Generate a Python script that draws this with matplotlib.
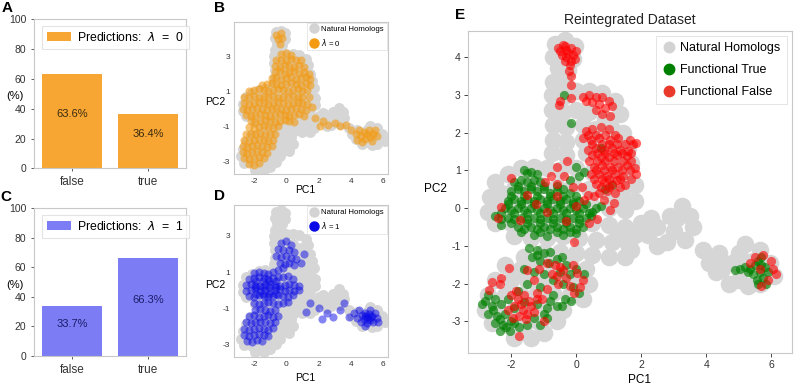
import numpy as np
import matplotlib
matplotlib.use("Agg")
import matplotlib.pyplot as plt
from matplotlib.lines import Line2D

plt.rcParams['font.family'] = ['Liberation Sans', 'DejaVu Sans']
plt.rcParams['axes.unicode_minus'] = False

# ---- bar panels (A, C) ----
bar_cats = ["false", "true"]
pct_lambda0 = [63.6, 36.4]
pct_lambda1 = [33.7, 66.3]

# ---- natural homologs (PC1, PC2), shared by B, D, E ----
natural = [
    (-0.65, 4.35), (-0.35, 4.45), (-0.05, 4.3), (-0.7, 4.0), (-0.4, 4.05), (-0.1, 3.95), (-0.55, 3.7), (-0.25, 3.65),
    (-0.7, 3.35), (-0.35, 3.3), (-0.75, 3.0), (-0.4, 2.95), (0.0, 3.1), (0.4, 3.1), (0.8, 3.05), (1.2, 2.85), (1.35, 2.5),
    (-0.75, 2.6), (-0.4, 2.55), (0.0, 2.6), (0.4, 2.55), (0.9, 2.35), (-0.7, 2.2), (-0.3, 2.15), (0.2, 2.2), (0.6, 2.1),
    (1.1, 2.1), (1.45, 2.0), (-0.7, 1.8), (-0.3, 1.75), (0.2, 1.8), (0.7, 1.7), (1.2, 1.65), (1.6, 1.6), (-0.75, 1.45),
    (-0.3, 1.4), (0.3, 1.45), (0.8, 1.35), (1.3, 1.3), (1.7, 1.2),
    (-2.5, 0.7), (-2.1, 0.9), (-1.7, 1.05), (-1.3, 1.1), (-0.9, 1.05), (-0.5, 1.0), (0.0, 1.05), (0.5, 0.95), (1.0, 0.9),
    (1.5, 0.85), (1.8, 0.6), (-2.65, 0.3), (-2.3, 0.4), (-1.9, 0.5), (-1.5, 0.6), (-1.1, 0.6), (-0.6, 0.55), (-0.1, 0.6),
    (0.4, 0.5), (0.9, 0.45), (1.4, 0.4), (1.8, 0.2), (-2.7, -0.1), (-2.4, 0.0), (-2.0, 0.05), (-1.5, 0.1), (-1.0, 0.1),
    (-0.5, 0.1), (0.0, 0.1), (0.5, 0.05), (1.0, 0.0), (1.5, -0.05), (-2.5, -0.4), (-2.0, -0.4), (-1.5, -0.35), (-1.0, -0.4),
    (-0.5, -0.35), (0.0, -0.35), (0.5, -0.4), (1.0, -0.45), (1.5, -0.5), (-1.9, -0.75), (-1.4, -0.8), (-0.9, -0.8),
    (-0.4, -0.75), (0.1, -0.8), (0.6, -0.85), (1.1, -0.9), (1.6, -0.95), (-1.0, -1.15), (-0.5, -1.15), (0.0, -1.2),
    (0.5, -1.25), (1.0, -1.3), (1.5, -1.3), (1.3, 0.2), (1.3, -0.75), (1.8, -0.7),
    (-1.6, -1.3), (-2.2, -1.5), (-1.7, -1.6), (-1.2, -1.5), (-0.7, -1.5), (-0.2, -1.45), (0.3, -1.6), (-2.5, -1.9),
    (-2.0, -1.9), (-1.5, -1.9), (-1.0, -1.85), (-0.5, -1.85), (0.0, -1.9), (0.4, -2.0), (-2.7, -2.3), (-2.2, -2.3),
    (-1.7, -2.3), (-1.2, -2.25), (-0.7, -2.25), (-0.2, -2.3), (0.2, -2.4), (-2.8, -2.7), (-2.4, -2.7), (-1.9, -2.7),
    (-1.4, -2.7), (-0.9, -2.65), (-0.4, -2.7), (-2.6, -3.05), (-2.1, -3.1), (-1.6, -3.1), (-1.1, -3.05), (-0.6, -3.0),
    (-1.9, -3.45), (-1.4, -3.45), (-1.0, -3.3),
    (2.0, -0.4), (1.7, -1.1), (2.2, -0.7), (2.5, -0.5), (2.5, -1.0), (2.9, -0.2), (3.25, 0.05), (3.6, -0.5), (3.35, -0.85),
    (3.0, -0.6), (2.3, -0.25), (2.8, -0.9), (3.1, -0.25), (3.5, -0.2),
    (3.9, -1.1), (4.4, -1.2), (4.3, -1.7), (4.7, -2.0), (5.2, -0.95), (5.65, -1.1), (5.1, -1.6), (5.65, -2.0), (5.95, -1.45),
    (4.8, -1.45), (5.3, -2.05), (6.1, -1.8), (4.1, -1.45), (4.5, -1.6), (5.0, -1.2), (5.45, -1.4), (5.8, -1.7), (5.0, -1.9),
]

# ---- predictions lambda = 0 (panel B) ----
pred_lambda0 = [
    (-0.6, 4.2), (-0.35, 4.3), (-0.5, 3.95), (-0.25, 4.0), (-0.4, 3.7),
    (-0.3, 3.1), (0.0, 3.15), (0.3, 3.05), (-0.6, 2.8), (-0.3, 2.75), (0.0, 2.8), (0.3, 2.85), (0.6, 2.75), (0.9, 2.8),
    (-0.7, 2.45), (-0.4, 2.4), (-0.1, 2.5), (0.2, 2.45), (0.5, 2.4), (0.8, 2.5), (1.1, 2.4),
    (-0.7, 2.1), (-0.4, 2.15), (-0.1, 2.05), (0.2, 2.1), (0.5, 2.15), (0.8, 2.05), (1.1, 2.1), (1.4, 2.0),
    (-0.9, 1.75), (-0.6, 1.8), (-0.3, 1.7), (0.0, 1.75), (0.3, 1.8), (0.6, 1.7), (0.9, 1.75), (1.2, 1.8), (1.5, 1.7),
    (-1.5, 1.35), (-1.2, 1.4), (-0.9, 1.45), (-0.6, 1.4), (-0.3, 1.35), (0.0, 1.4), (0.3, 1.45), (0.6, 1.4), (0.9, 1.35),
    (1.2, 1.45), (1.5, 1.35),
    (-2.3, 1.0), (-2.0, 1.05), (-1.7, 1.1), (-1.4, 1.05), (-1.1, 1.0), (-0.8, 1.05), (-0.5, 1.1), (-0.2, 1.05), (0.1, 1.0),
    (0.4, 1.05), (0.7, 1.1), (1.0, 1.0), (1.3, 1.05),
    (-2.6, 0.65), (-2.3, 0.7), (-2.0, 0.75), (-1.7, 0.7), (-1.4, 0.65), (-1.1, 0.7), (-0.8, 0.75), (-0.5, 0.7), (-0.2, 0.65),
    (0.1, 0.7), (0.4, 0.75), (0.7, 0.7), (1.0, 0.65), (1.4, 0.7),
    (-2.6, 0.35), (-2.3, 0.3), (-2.0, 0.35), (-1.7, 0.4), (-1.4, 0.35), (-1.1, 0.3), (-0.8, 0.35), (-0.5, 0.4), (-0.2, 0.35),
    (0.1, 0.3), (0.4, 0.35), (0.7, 0.4), (1.0, 0.35), (1.3, 0.3),
    (-2.7, 0.0), (-2.4, -0.05), (-2.1, 0.0), (-1.8, 0.05), (-1.5, 0.0), (-1.2, -0.05), (-0.9, 0.0), (-0.6, 0.05), (-0.3, 0.0),
    (0.0, -0.05), (0.3, 0.0), (0.6, 0.05), (0.9, 0.0), (1.2, -0.05), (1.6, 0.1),
    (-2.5, -0.35), (-2.2, -0.4), (-1.9, -0.35), (-1.6, -0.3), (-1.3, -0.35), (-1.0, -0.4), (-0.7, -0.35), (-0.4, -0.3),
    (-0.1, -0.35), (0.2, -0.4), (0.5, -0.35), (0.8, -0.3), (1.1, -0.4),
    (-2.2, -0.7), (-1.9, -0.75), (-1.6, -0.7), (-1.3, -0.65), (-1.0, -0.7), (-0.7, -0.75), (-0.4, -0.7), (-0.1, -0.65), (0.2, -0.7), (0.5, -0.75),
    (-2.3, -1.05), (-2.0, -1.1), (-1.7, -1.05), (-1.4, -1.0), (-1.1, -1.05), (-0.8, -1.1), (-0.5, -1.0),
    (-2.5, -1.4), (-2.2, -1.45), (-1.9, -1.4), (-1.6, -1.35), (-1.3, -1.4), (-1.0, -1.45), (-0.7, -1.4),
    (-2.6, -1.75), (-2.3, -1.8), (-2.0, -1.75), (-1.7, -1.7), (-1.4, -1.75), (-1.1, -1.8), (-0.8, -1.75),
    (-2.7, -2.1), (-2.4, -2.15), (-2.1, -2.1), (-1.8, -2.05), (-1.5, -2.1), (-1.2, -2.15), (-0.9, -2.1),
    (-2.7, -2.45), (-2.4, -2.5), (-2.1, -2.45), (-1.8, -2.4), (-1.5, -2.45), (-1.2, -2.5),
    (-2.6, -2.8), (-2.3, -2.85), (-2.0, -2.8), (-1.7, -2.75), (-1.4, -2.8), (-2.3, -3.15), (-2.0, -3.2), (-1.7, -3.1),
    (1.8, -0.5), (2.3, -0.7), (2.6, -0.9), (3.0, -0.8), (3.3, -1.0), (3.7, -0.9), (2.1, -1.0),
    (4.0, -1.2), (4.3, -1.4), (4.5, -1.2), (4.6, -1.55), (4.8, -1.3), (4.9, -1.7), (5.0, -1.45), (5.1, -1.2), (5.2, -1.6),
    (5.4, -1.4), (5.3, -1.85), (5.6, -1.55), (4.7, -1.9), (5.5, -1.2), (4.4, -1.75),
]

# ---- predictions lambda = 1 (panel D) ----
pred_lambda1 = [
    (-0.3, 2.6), (0.0, 2.7), (0.3, 2.5), (-0.5, 2.3), (-0.2, 2.2), (0.2, 2.25), (0.5, 2.1), (-0.6, 1.9), (-0.3, 1.85),
    (0.0, 1.9), (0.3, 1.8), (0.6, 1.75), (-0.4, 1.5), (-0.1, 1.45), (0.2, 1.5), (0.5, 1.4), (0.9, 1.5), (1.1, 2.0),
    (-2.0, 0.95), (-1.7, 1.0), (-1.4, 0.95), (-1.1, 0.9), (-0.8, 1.0), (-0.5, 1.1), (-0.2, 1.2),
    (-2.3, 0.6), (-2.0, 0.65), (-1.7, 0.7), (-1.4, 0.65), (-1.1, 0.6), (-0.8, 0.65), (-0.5, 0.7), (-0.2, 0.75), (0.1, 0.8), (0.4, 0.6),
    (-2.5, 0.3), (-2.2, 0.35), (-1.9, 0.3), (-1.6, 0.25), (-1.3, 0.3), (-1.0, 0.35), (-0.7, 0.3), (-0.4, 0.25), (-0.1, 0.3),
    (0.2, 0.35), (0.5, 0.3), (0.8, 0.25),
    (-2.5, -0.05), (-2.2, 0.0), (-1.9, 0.05), (-1.6, -0.05), (-1.3, 0.0), (-1.0, -0.05), (-0.7, 0.0), (-0.4, 0.05), (-0.1, -0.05),
    (0.2, 0.0), (0.5, -0.05), (0.8, 0.0),
    (-2.3, -0.35), (-2.0, -0.4), (-1.7, -0.3), (-1.4, -0.35), (-1.1, -0.4), (-0.8, -0.35), (-0.5, -0.3), (-0.2, -0.35), (0.1, -0.4), (0.4, -0.3),
    (-2.0, -0.7), (-1.7, -0.75), (-1.4, -0.7), (-1.1, -0.65), (-0.8, -0.7), (-0.5, -0.75), (-0.2, -0.7), (0.1, -0.65),
    (-1.85, 0.15), (-1.45, 0.15), (-1.05, 0.15), (-0.65, 0.15), (-1.85, -0.2), (-1.45, -0.2), (-1.05, -0.2), (-0.65, -0.2),
    (-1.85, 0.5), (-1.45, 0.5), (-1.05, 0.5), (-0.65, 0.5),
    (-1.9, -1.1), (-1.6, -1.05), (-1.3, -1.1), (-1.0, -1.15), (-0.7, -1.1),
    (-2.3, -1.45), (-2.0, -1.4), (-1.7, -1.5), (-1.4, -1.45), (-1.1, -1.4), (-0.8, -1.5), (-0.5, -1.45),
    (-2.5, -1.8), (-2.2, -1.85), (-1.9, -1.8), (-1.6, -1.75), (-1.3, -1.8), (-1.0, -1.85), (-0.7, -1.8),
    (-2.6, -2.15), (-2.3, -2.2), (-2.0, -2.15), (-1.7, -2.1), (-1.4, -2.15), (-1.1, -2.2), (-0.8, -2.1),
    (-2.6, -2.5), (-2.3, -2.55), (-2.0, -2.5), (-1.7, -2.45), (-1.4, -2.5), (-1.1, -2.55),
    (-2.4, -2.85), (-2.1, -2.9), (-1.8, -2.8), (-1.5, -2.85),
    (1.5, -0.7), (2.0, -1.0), (2.5, -1.3), (2.9, -1.5), (3.3, -1.1), (3.6, -0.7), (3.9, -1.5), (1.2, -1.2), (2.2, -1.6),
    (4.2, -1.3), (4.4, -1.55), (4.5, -1.1), (4.6, -1.8), (4.7, -1.4), (4.8, -1.6), (4.9, -1.25), (5.0, -1.5), (5.0, -1.85),
    (5.1, -1.35), (5.2, -1.65), (5.3, -1.45), (5.4, -1.75), (5.5, -1.3), (5.6, -1.55), (4.9, -2.0), (5.2, -1.1), (5.7, -1.8),
    (4.85, -1.45), (5.05, -1.6), (5.25, -1.5),
]

# ---- reintegrated dataset (panel E) ----
func_true = [
    (-1.6, 1.0), (-1.4, 0.95), (-1.2, 0.9), (-1.5, 0.93),
    (-1.9, 0.7), (-1.7, 0.75), (-1.5, 0.7), (-1.3, 0.75), (-1.1, 0.7), (-0.2, 0.75), (0.1, 0.85), (0.25, 0.95), (0.0, 1.1),
    (-2.0, 0.45), (-1.8, 0.5), (-1.6, 0.45), (-1.4, 0.5), (-1.2, 0.45), (-1.0, 0.5), (-0.8, 0.4), (-0.6, 0.45), (-0.4, 0.5), (-0.2, 0.4),
    (-2.1, 0.2), (-1.9, 0.25), (-1.7, 0.2), (-1.5, 0.25), (-1.3, 0.2), (-1.1, 0.25), (-0.9, 0.2), (-0.7, 0.25), (-0.5, 0.2),
    (-0.3, 0.25), (-0.1, 0.15), (0.1, 0.2),
    (-2.2, 0.0), (-2.0, -0.05), (-1.8, 0.0), (-1.6, -0.05), (-1.4, 0.0), (-1.2, -0.05), (-1.0, 0.0), (-0.8, -0.05), (-0.6, 0.0),
    (-0.4, -0.05), (-0.2, 0.0), (0.0, -0.05), (0.2, 0.0),
    (-2.5, -0.2), (-2.3, -0.3), (-2.1, -0.25), (-1.9, -0.3), (-1.7, -0.25), (-1.5, -0.3), (-1.3, -0.25), (-1.1, -0.3), (-0.9, -0.25),
    (-0.7, -0.3), (-0.5, -0.25), (-0.3, -0.3), (-0.1, -0.25), (0.1, -0.3), (0.3, -0.25), (0.45, -0.2),
    (-2.3, -0.45), (-1.8, -0.5), (-1.6, -0.55), (-1.4, -0.5), (-1.2, -0.55), (-1.0, -0.5), (-0.8, -0.55), (-0.6, -0.5),
    (-0.4, -0.55), (-0.2, -0.5), (0.0, -0.55), (0.2, -0.5),
    (-1.3, -0.7), (-0.9, -0.75), (-0.4, -0.7), (0.0, -0.65), (0.6, 0.0), (0.75, 0.05), (0.5, -0.1),
    (-1.8, 0.58), (-1.4, 0.58), (-1.0, 0.58), (-0.6, 0.58),
    (-2.0, 0.32), (-1.6, 0.32), (-1.2, 0.32), (-0.8, 0.32), (-0.4, 0.32), (0.0, 0.32),
    (-2.1, 0.1), (-1.7, 0.1), (-1.3, 0.1), (-0.9, 0.1), (-0.5, 0.1), (-0.1, 0.1), (0.3, 0.1),
    (-2.3, -0.12), (-1.9, -0.12), (-1.5, -0.12), (-1.1, -0.12), (-0.7, -0.12), (-0.3, -0.12), (0.1, -0.12), (0.4, -0.12),
    (-2.0, -0.4), (-1.5, -0.4), (-1.1, -0.4), (-0.7, -0.4), (-0.3, -0.4), (0.1, -0.4),
    (-1.7, -0.62), (-1.1, -0.62), (-0.6, -0.62), (-0.2, -0.62),
    (-1.45, -1.05), (-1.2, -1.1), (-1.0, -1.2), (-0.8, -1.15), (-1.35, -1.3), (-1.1, -1.4), (-0.85, -1.45), (-0.45, -1.3),
    (-0.3, -1.5), (-0.5, -1.7), (-0.2, -1.75), (0.0, -1.6), (0.25, -1.75), (-1.6, -1.6), (-1.3, -1.7), (-1.0, -1.75),
    (-0.7, -1.9), (-0.4, -2.0), (-0.1, -2.1), (0.1, -2.25), (-1.5, -2.0), (-1.8, -2.2), (-1.1, -2.1), (-0.7, -2.3),
    (-0.35, -2.4), (-0.15, -2.45), (-2.7, -2.3), (-2.5, -2.4), (-2.9, -2.55), (-2.6, -2.6), (-2.3, -2.55), (-2.7, -2.8),
    (-2.45, -2.85), (-2.2, -2.8), (-2.5, -3.05), (-2.25, -3.1), (-2.0, -3.0), (-2.35, -3.25), (-2.05, -3.25), (-1.75, -3.15),
    (-1.5, -3.1), (-1.3, -2.9), (-1.0, -2.8), (-0.9, -2.65), (-0.6, -2.6), (-1.6, -2.5), (-1.2, -2.55), (-1.9, -2.65),
    (-0.8, -2.45), (-2.1, -2.4),
    (-2.8, -2.45), (-2.55, -2.7), (-2.35, -2.95), (-2.15, -3.15), (-1.9, -3.05), (-1.2, -1.25), (-0.6, -1.35), (-0.9, -2.9),
    (-1.1, -3.1), (-0.45, -2.6),
    (-0.38, 3.0), (-0.15, 2.26), (0.75, 1.6), (0.9, 0.5), (1.1, 0.6),
    (4.9, -1.65), (5.05, -1.6), (5.2, -1.55), (5.35, -1.6), (5.5, -1.5), (5.6, -1.4), (5.7, -1.5), (5.8, -1.55), (5.65, -1.7),
    (5.75, -1.85), (5.55, -1.9), (5.9, -1.7), (5.45, -1.75), (5.6, -2.0), (5.85, -2.0), (5.7, -1.3), (5.3, -1.7),
]

func_false = [
    (-0.55, 4.25), (-0.35, 4.3), (-0.15, 4.25), (0.0, 4.15), (-0.45, 4.05), (-0.25, 4.1), (-0.05, 3.95), (-0.35, 3.9),
    (-0.2, 3.8), (-0.4, 4.33), (-0.5, 4.15), (-0.3, 4.2), (-0.1, 4.05), (-0.3, 4.0), (-0.15, 3.9),
    (-0.22, 3.62), (-0.17, 3.49), (-0.15, 3.27), (-0.49, 2.83), (-0.53, 2.74), (-0.17, 2.92),
    (0.2, 2.95), (0.4, 3.0), (0.6, 2.95), (0.8, 2.95), (1.0, 2.85), (0.5, 2.8), (0.7, 2.75), (0.9, 2.65), (0.8, 2.5),
    (1.05, 2.45), (0.3, 2.85), (0.6, 2.6), (1.1, 2.7),
    (0.3, 2.05), (0.5, 2.1), (0.75, 2.15), (1.0, 2.1),
    (0.2, 1.85), (0.45, 1.8), (0.7, 1.85), (1.05, 1.8), (1.3, 1.85), (1.65, 1.8), (1.85, 1.72),
    (0.35, 1.55), (0.6, 1.6), (0.85, 1.55), (1.1, 1.6), (1.35, 1.55), (1.6, 1.5),
    (0.5, 1.4), (0.75, 1.35), (1.0, 1.35), (1.25, 1.4), (1.55, 1.37),
    (0.55, 1.1), (0.8, 1.15), (1.05, 1.1), (1.3, 1.1), (1.55, 1.15), (1.8, 1.05),
    (0.45, 0.9), (0.7, 0.9), (0.95, 0.85), (1.2, 0.9), (1.45, 0.85), (1.85, 0.9),
    (0.6, 0.65), (0.85, 0.7), (1.1, 0.65), (1.25, 0.75), (1.5, 0.6), (0.7, 0.4), (0.95, 0.45), (1.2, 0.4),
    (0.35, 1.95), (0.6, 1.95), (0.9, 1.95), (1.2, 1.95),
    (0.5, 1.7), (0.8, 1.7), (1.0, 1.7), (1.25, 1.7), (1.5, 1.7), (1.75, 1.7),
    (0.65, 1.45), (0.9, 1.45), (1.15, 1.45), (1.4, 1.45), (1.7, 1.45),
    (0.4, 1.25), (0.65, 1.25), (0.9, 1.25), (1.15, 1.25), (1.45, 1.25), (1.7, 1.25),
    (0.6, 1.0), (0.85, 1.0), (1.1, 1.0), (1.4, 1.0), (1.65, 1.0),
    (0.55, 0.78), (0.8, 0.78), (1.0, 0.78), (1.35, 0.78), (1.7, 0.78), (0.75, 0.55), (1.0, 0.55), (1.35, 0.55),
    (-2.0, 0.8), (-0.79, 0.84), (-0.28, 1.24), (-0.58, 1.1), (-0.38, 0.84), (0.18, 0.57), (-0.1, 0.55), (0.35, 0.35),
    (-0.6, 0.65), (-0.95, 0.7),
    (-2.32, 0.04), (-2.42, -0.26), (-0.89, -0.09), (-1.72, -0.31), (-0.07, -0.89), (-0.58, 0.31), (0.24, 0.22), (0.54, 0.31),
    (0.85, 0.22), (1.04, -0.05), (1.16, 0.13), (-1.25, 0.1), (-0.3, -0.35), (0.0, 0.05), (-1.5, 0.35), (0.4, -0.4), (0.65, -0.3),
    (-2.07, -1.59), (-2.32, -1.86), (-2.35, -2.0), (-2.68, -2.17), (-2.0, -2.3), (-1.8, -2.4), (-1.6, -2.3), (-1.9, -2.6),
    (-1.65, -2.7), (-1.4, -2.6), (-1.75, -2.85), (-1.5, -2.8), (-1.3, -2.75), (-2.1, -2.7), (-1.76, -3.4), (-1.3, -1.9),
    (-1.5, -1.64), (-1.2, -2.25), (-0.9, -1.45), (-0.65, -1.5), (-0.75, -1.75), (-0.5, -1.55), (-0.3, -1.85), (-0.1, -1.5),
    (0.03, -1.72), (0.2, -1.9), (-0.07, -2.25), (0.12, -2.1), (-0.55, -2.0), (-0.9, -2.15), (-1.05, -2.4), (-1.15, -1.6),
    (-1.0, -3.0), (-2.6, -1.95),
    (-1.85, -2.2), (-1.7, -2.55), (-1.45, -2.45), (-1.55, -2.95), (-1.95, -2.9), (-1.2, -2.4), (-0.6, -1.8), (-0.4, -1.65),
    (-0.2, -2.05),
    (5.5, -1.3), (5.75, -1.25), (6.0, -1.4), (6.05, -1.6), (6.15, -1.75), (5.65, -1.6), (5.9, -1.9), (5.7, -2.05), (5.35, -1.45),
]

nat = np.array(natural)
p0 = np.array(pred_lambda0)
p1 = np.array(pred_lambda1)
ft = np.array(func_true)
ff = np.array(func_false)

FW, FH = 796, 386
fig = plt.figure(figsize=(FW / 100, FH / 100), dpi=100)


def box(l, t, r, b):
    return [l / FW, (FH - b) / FH, (r - l) / FW, (b - t) / FH]


spine_col = '#c8c8c8'
tick_col = '#444444'


def style(ax, fs):
    for s in ax.spines.values():
        s.set_color(spine_col)
        s.set_linewidth(0.8)
    ax.tick_params(labelsize=fs, colors=tick_col, length=2, width=0.6)
    for lab in ax.get_xticklabels() + ax.get_yticklabels():
        lab.set_color('#333333')


def bar_panel(rect, vals, color, txtcol, lam):
    ax = fig.add_axes(rect)
    ax.bar(range(len(bar_cats)), vals, width=0.8, color=color, label='Predictions:  $\\lambda$  =  ' + lam)
    for i, v in enumerate(vals):
        ax.text(i, v / 2 + 4.8, f"{v}%", ha='center', va='center', fontsize=8, color=txtcol)
    ax.set_xlim(-0.5, 1.5)
    ax.set_ylim(0, 100)
    ax.set_yticks(range(0, 101, 20))
    ax.set_xticks(range(len(bar_cats)))
    ax.set_xticklabels(bar_cats)
    ax.set_ylabel('(%)', rotation=0, fontsize=8)
    ax.yaxis.set_label_coords(-0.125, 0.45)
    style(ax, 7.5)
    ax.tick_params(axis='x', labelsize=8.5)
    leg = ax.legend(loc='upper left', bbox_to_anchor=(0.01, 0.995), fontsize=8.8, frameon=True,
                    handlelength=2.0, handleheight=0.8, borderpad=0.4, handletextpad=0.5, fancybox=False)
    leg.get_frame().set_edgecolor('#dddddd')
    leg.get_frame().set_linewidth(0.8)
    return ax


def pc_panel(rect, pts, color, alpha, lam, ylim, pc1_y):
    ax = fig.add_axes(rect)
    ax.scatter(nat[:, 0], nat[:, 1], s=62, color='#d6d6d6', linewidths=0, label='Natural Homologs')
    ax.scatter(pts[:, 0], pts[:, 1], s=34, color=color, alpha=alpha, linewidths=0)
    ax.set_xlim(-3.23, 6.3)
    ax.set_ylim(*ylim)
    ax.set_xticks([-2, 0, 2, 4, 6])
    ax.set_yticks([3, 1, -1, -3])
    style(ax, 6)
    ax.tick_params(length=0, pad=3)
    ax.set_ylabel('PC2', rotation=0, fontsize=7.5)
    ax.yaxis.set_label_coords(-0.125, 0.44)
    ax.set_xlabel('PC1', fontsize=7.5)
    ax.xaxis.set_label_coords(0.46, pc1_y)
    handles = [
        Line2D([], [], marker='o', ls='', color='#d3d3d3', markersize=6.5),
        Line2D([], [], marker='o', ls='', color=color, markersize=6.5),
    ]
    leg = ax.legend(handles, ['Natural Homologs', '$\\lambda$ = ' + lam], loc='upper right', fontsize=5.6,
                    frameon=True, fancybox=False, borderpad=0.35, handletextpad=0.3, labelspacing=0.45,
                    borderaxespad=0.15, handlelength=1.2)
    leg.get_frame().set_edgecolor('#dddddd')
    leg.get_frame().set_linewidth(0.6)
    return ax


bar_panel(box(34, 19.3, 186, 168.3), pct_lambda0, '#F7A633', '#3a2a10', '0')
bar_panel(box(34, 208.3, 186, 356), pct_lambda1, '#7C7CF4', '#1c1c6a', '1')

pc_panel(box(234, 21.7, 388, 174), p0, '#F39A12', 0.6, '0', (-3.7, 4.95), -0.072)
pc_panel(box(234, 205, 388, 356.7), p1, '#0A0AE6', 0.5, '1', (-3.7, 4.72), -0.11)

# panel E
axE = fig.add_axes(box(467.7, 30.7, 792, 352.7))
axE.scatter(nat[:, 0], nat[:, 1], s=160, color='#d6d6d6', linewidths=0, label='Natural Homologs')
axE.scatter(ft[:, 0], ft[:, 1], s=44, color='green', alpha=0.65, linewidths=0, label='Functional True')
axE.scatter(ff[:, 0], ff[:, 1], s=44, color='red', alpha=0.6, linewidths=0, label='Functional False')
axE.set_xlim(-3.34, 6.64)
axE.set_ylim(-3.83, 4.7)
axE.set_xticks([-2, 0, 2, 4, 6])
axE.set_yticks([-3, -2, -1, 0, 1, 2, 3, 4])
style(axE, 7.5)
axE.tick_params(length=3, width=0.7, pad=2)
axE.set_title('Reintegrated Dataset', fontsize=10, color='#222222', pad=5)
axE.set_ylabel('PC2', rotation=0, fontsize=8.5)
axE.yaxis.set_label_coords(-0.1, 0.49)
axE.set_xlabel('PC1', fontsize=8.5)
axE.xaxis.set_label_coords(0.53, -0.066)
hE = [
    Line2D([], [], marker='o', ls='', color='#d3d3d3', markersize=7.5),
    Line2D([], [], marker='o', ls='', color='green', markersize=7.5),
    Line2D([], [], marker='o', ls='', color='#e8392b', markersize=7.5),
]
legE = axE.legend(hE, ['Natural Homologs', 'Functional True', 'Functional False'], loc='upper right',
                  fontsize=9, frameon=True, fancybox=False, borderpad=0.5, labelspacing=0.8,
                  handletextpad=0.3, handlelength=1.2, borderaxespad=0.4)
legE.get_frame().set_edgecolor('#dddddd')
legE.get_frame().set_linewidth(0.7)

# panel letters
for lab, x, y in [('A', 7, 8), ('B', 220, 8), ('C', 6, 197), ('D', 220, 196), ('E', 460, 15)]:
    fig.text(x / FW, 1 - y / FH, lab, fontsize=11, fontweight='bold', ha='center', va='center')

fig.savefig('out.png', dpi=100)
